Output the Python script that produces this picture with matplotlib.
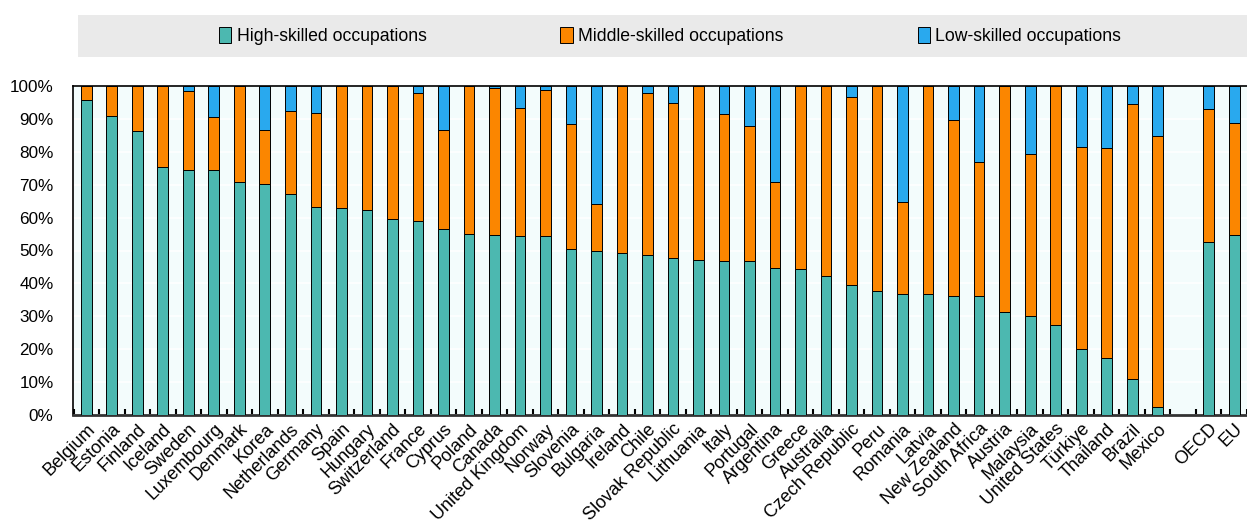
import numpy as np
import matplotlib
matplotlib.use("Agg")
import matplotlib.pyplot as plt
from matplotlib.patches import Rectangle

plt.rcParams['font.family'] = ['Liberation Sans', 'DejaVu Sans']

countries = ["Belgium", "Estonia", "Finland", "Iceland", "Sweden", "Luxembourg", "Denmark",
             "Korea", "Netherlands", "Germany", "Spain", "Hungary", "Switzerland", "France",
             "Cyprus", "Poland", "Canada", "United Kingdom", "Norway", "Slovenia", "Bulgaria",
             "Ireland", "Chile", "Slovak Republic", "Lithuania", "Italy", "Portugal",
             "Argentina", "Greece", "Australia", "Czech Republic", "Peru", "Romania", "Latvia",
             "New Zealand", "South Africa", "Austria", "Malaysia", "United States", "Türkiye",
             "Thailand", "Brazil", "Mexico", "OECD", "EU"]

high = [95.6, 90.9, 86.3, 75.3, 74.6, 74.5, 70.9, 70.2, 67.2, 63.2, 63.0, 62.4, 59.6, 59.0,
        56.5, 55.0, 54.7, 54.5, 54.4, 50.5, 49.8, 49.2, 48.6, 47.8, 47.1, 46.8, 46.8, 44.7,
        44.4, 42.2, 39.5, 37.7, 36.8, 36.8, 36.1, 36.1, 31.4, 30.2, 27.3, 20.0, 17.2, 11.0,
        2.4, 52.7, 54.8]
middle = [4.4, 9.1, 13.7, 24.7, 24.0, 16.0, 29.1, 16.5, 25.3, 28.6, 37.0, 37.6, 40.4, 39.0,
          30.2, 45.0, 44.8, 38.9, 44.5, 38.0, 14.4, 50.8, 49.4, 46.9, 52.9, 44.8, 41.1, 26.2,
          55.6, 57.8, 57.3, 62.3, 28.0, 63.2, 53.5, 40.7, 68.6, 49.0, 72.7, 61.4, 63.9, 83.6,
          82.5, 40.3, 34.1]
low = [0.0, 0.0, 0.0, 0.0, 1.4, 9.5, 0.0, 13.3, 7.5, 8.2, 0.0, 0.0, 0.0, 2.0,
       13.3, 0.0, 0.5, 6.6, 1.1, 11.5, 35.8, 0.0, 2.0, 5.3, 0.0, 8.4, 12.1, 29.1,
       0.0, 0.0, 3.2, 0.0, 35.2, 0.0, 10.4, 23.2, 0.0, 20.8, 0.0, 18.6, 18.9, 5.4,
       15.1, 7.0, 11.1]

series = ["High-skilled occupations", "Middle-skilled occupations", "Low-skilled occupations"]
colors = ["#4cb8b0", "#fb8600", "#29a9ee"]

# leave one empty slot between countries and the aggregates
pos = np.array(list(range(43)) + [44, 45])
high = np.array(high)
middle = np.array(middle)
low = np.array(low)

fig = plt.figure(figsize=(12.47, 5.2), dpi=100)
ax = fig.add_axes([73 / 1247, 1 - 415 / 520, 1 - 73 / 1247, 329 / 520])
ax.set_facecolor("#f3fcfc")

w = 0.42
ax.bar(pos, high, w, color=colors[0], edgecolor="black", linewidth=0.7, label=series[0], zorder=3)
ax.bar(pos, middle, w, bottom=high, color=colors[1], edgecolor="black", linewidth=0.7,
       label=series[1], zorder=3)
ax.bar(pos, low, w, bottom=high + middle, color=colors[2], edgecolor="black", linewidth=0.7,
       label=series[2], zorder=3)

ax.set_ylim(0, 100)
ax.set_xlim(-0.52, 45.17)
ax.set_yticks(np.arange(0, 101, 10))
ax.set_yticklabels([f"{v}%" for v in range(0, 101, 10)], fontsize=12.3)
ax.yaxis.grid(True, color="white", linewidth=1.2, zorder=0)
ax.tick_params(axis="y", length=0, pad=14)

ax.set_xticks(pos)
ax.set_xticklabels(countries, rotation=45, ha="right", rotation_mode="anchor", fontsize=13)
ax.tick_params(axis="x", which="major", length=0, pad=4)
ax.set_xticks(np.arange(-0.5, 45.6, 1), minor=True)
ax.tick_params(axis="x", which="minor", direction="in", length=4, width=1.5, color="black")

for s in ["left", "top"]:
    ax.spines[s].set_color("black")
    ax.spines[s].set_linewidth(1.2)
ax.spines["right"].set_visible(False)
ax.spines["bottom"].set_color("#333333")
ax.spines["bottom"].set_linewidth(2)

# grey legend band
fig.patches.append(Rectangle((78 / 1247, 1 - 57 / 520), 1 - 78 / 1247, 42 / 520,
                             transform=fig.transFigure, facecolor="#eaeaea", edgecolor="none",
                             zorder=0))
handles, labels = ax.get_legend_handles_labels()
fig.legend(handles, labels, loc="center", bbox_to_anchor=(670 / 1247, 1 - 36 / 520), ncol=3,
           frameon=False, fontsize=12.7, handlelength=0.7, handleheight=1.0, handletextpad=0.3,
           columnspacing=7.6)

fig.savefig("out.png", dpi=100)
